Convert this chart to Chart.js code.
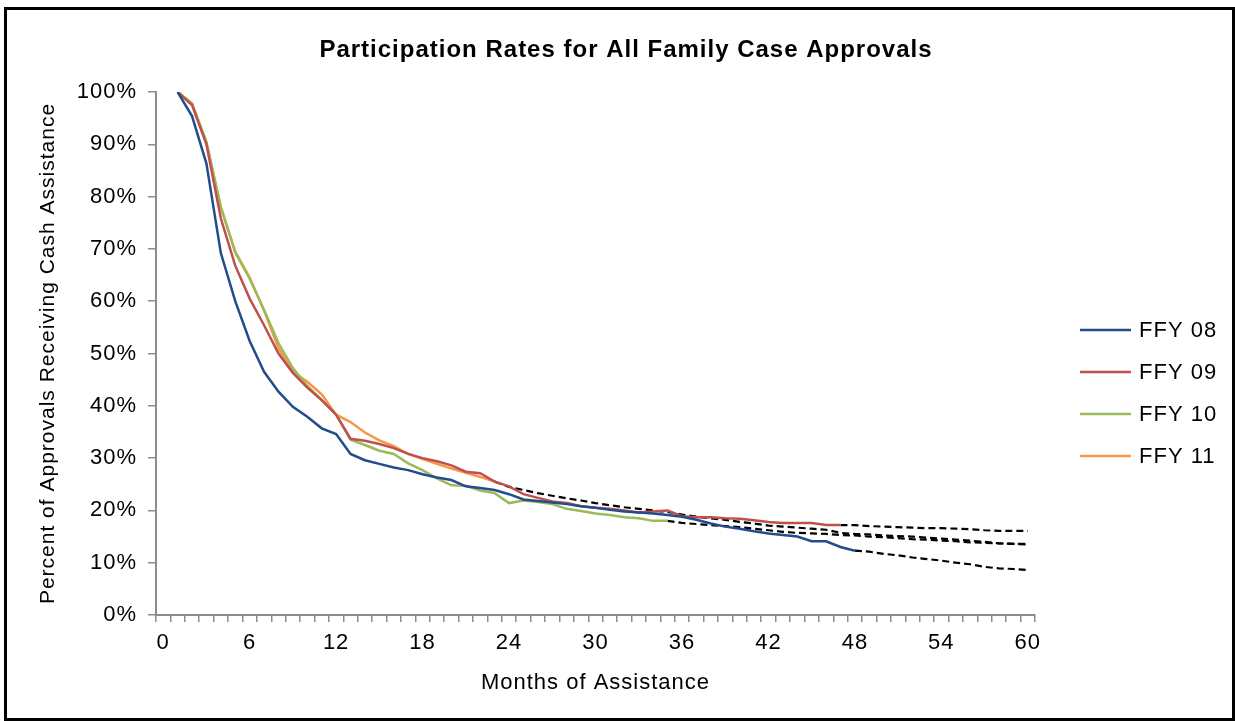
<!DOCTYPE html>
<html>
<head>
<meta charset="utf-8">
<title>Participation Rates for All Family Case Approvals</title>
<script src="https://cdn.jsdelivr.net/npm/chart.js@4.4.1/dist/chart.umd.min.js"></script>
<style>
    html, body { margin: 0; padding: 0; background: #fff; }
    #wrap { position: relative; width: 1235px; height: 721px; overflow: hidden; }
    #participation-chart { position: absolute; left: 0; top: 0; }
    #frame { position: absolute; left: 4px; top: 7px; right: 0; bottom: 0; border: 3px solid #000; pointer-events: none; }
</style>
</head>
<body>
<div id="wrap">
    <canvas id="participation-chart" width="1235" height="721"></canvas>
    <div id="frame"></div>
</div>
<script>
// months of assistance (category axis), labelled every 6 months
const MONTHS = ['0','1','2','3','4','5','6','7','8','9','10','11','12','13','14','15','16','17','18','19','20',
    '21','22','23','24','25','26','27','28','29','30','31','32','33','34','35','36','37','38','39','40',
    '41','42','43','44','45','46','47','48','49','50','51','52','53','54','55','56','57','58','59','60'];
const LABEL_EVERY = 6;

// percent of approvals still receiving cash assistance, starting at month 1
const FFY08 = [100, 95.4, 86.3, 69.2, 60.0, 52.4, 46.5, 42.7, 39.8, 37.9,
    35.7, 34.6, 30.8, 29.6, 28.9, 28.2, 27.7, 26.9, 26.3, 25.8,
    24.6, 24.3, 23.9, 23.1, 22.1, 21.8, 21.5, 21.2, 20.8, 20.5,
    20.1, 19.8, 19.6, 19.4, 19.1, 18.8, 18.2, 17.5, 16.9, 16.5,
    16.0, 15.6, 15.3, 15.0, 14.1, 14.1, 13.0, 12.3];
const FFY09 = [100, 97.5, 90.0, 75.8, 66.8, 60.5, 55.4, 50.0, 46.3, 43.5,
    41.1, 38.3, 33.7, 33.3, 32.7, 31.9, 30.8, 30.0, 29.4, 28.6,
    27.4, 27.1, 25.5, 24.6, 23.1, 22.4, 21.7, 21.4, 20.8, 20.5,
    20.3, 20.0, 19.6, 19.8, 20.0, 18.9, 18.7, 18.7, 18.5, 18.4,
    18.1, 17.8, 17.6, 17.6, 17.6, 17.2, 17.2];
const FFY10 = [100, 97.8, 90.5, 78.0, 69.3, 64.3, 58.3, 52.0, 47.2, 43.8,
    41.1, 38.3, 33.5, 32.5, 31.4, 30.8, 29.0, 27.7, 26.1, 24.8,
    24.7, 23.8, 23.3, 21.4, 21.9, 21.6, 21.2, 20.3, 19.9, 19.4,
    19.1, 18.7, 18.5, 18.0, 18.0];
const FFY11 = [100, 97.8, 90.2, 78.0, 69.5, 64.5, 58.2, 51.0, 46.5, 44.6,
    42.2, 38.3, 36.9, 34.9, 33.4, 32.3, 30.8, 29.8, 28.9, 28.0,
    27.2, 26.4, 25.5];

// projected (dashed) continuations, each starting at the last actual month
const PROJ08_START = 48;
const PROJ08 = [12.3, 12.1, 11.7, 11.4, 11.0, 10.7, 10.4, 10.0, 9.7, 9.2, 8.9, 8.8, 8.6];
const PROJ09_START = 47;
const PROJ09 = [17.2, 17.2, 17.0, 16.9, 16.8, 16.7, 16.6, 16.6, 16.5, 16.4, 16.2, 16.1, 16.1, 16.1];
const PROJ10_START = 35;
const PROJ10 = [18.0, 17.6, 17.4, 17.2, 17.0, 16.8, 16.5, 16.2, 15.9, 15.7,
    15.6, 15.5, 15.3, 15.2, 15.0, 14.9, 14.7, 14.5, 14.4, 14.2,
    14.1, 13.9, 13.8, 13.7, 13.6, 13.5];
const PROJ11_START = 23;
const PROJ11 = [25.5, 24.5, 23.9, 23.3, 22.8, 22.3, 21.9, 21.4, 21.0, 20.6,
    20.3, 20.0, 19.7, 19.2, 18.8, 18.5, 18.2, 17.8, 17.5, 17.1,
    16.9, 16.7, 16.5, 16.3, 15.7, 15.5, 15.4, 15.2, 15.1, 15.0,
    14.8, 14.6, 14.4, 14.2, 14.0, 13.7, 13.6, 13.6];

const Y_TICKS_STEP = 10;

const FONT_FAMILY = "'Liberation Sans', Arial, sans-serif";
const AXIS_GREY = '#8c8c8c';

// put values on the month axis, leaving earlier months empty
function fromMonth(start, values) {
    const out = [];
    for (let i = 0; i < start; i++) out.push(null);
    return out.concat(values);
}

function actualSeries(label, values, color) {
    return {
        label: label,
        data: fromMonth(1, values),
        borderColor: color,
        backgroundColor: color,
        borderWidth: 2.5,
        pointRadius: 0,
        tension: 0
    };
}

function projectedSeries(start, values) {
    return {
        label: '',
        data: fromMonth(start, values),
        borderColor: '#000000',
        backgroundColor: '#000000',
        borderWidth: 2.2,
        borderDash: [7, 4],
        pointRadius: 0,
        tension: 0
    };
}

// legend on the right, drawn by hand so it sits where the original puts it
const sideLegend = {
    id: 'sideLegend',
    afterDraw(chart, args, opts) {
        const ctx = chart.ctx;
        ctx.save();
        ctx.font = opts.font;
        ctx.textBaseline = 'middle';
        ctx.textAlign = 'left';
        chart.data.datasets.filter(ds => ds.label).forEach((ds, i) => {
            const y = opts.top + i * opts.spacing;
            ctx.strokeStyle = ds.borderColor;
            ctx.lineWidth = ds.borderWidth;
            ctx.beginPath();
            ctx.moveTo(opts.left, y);
            ctx.lineTo(opts.left + opts.lineLength, y);
            ctx.stroke();
            ctx.fillStyle = '#000';
            ctx.fillText(ds.label, opts.left + opts.lineLength + opts.gap, y + 1);
        });
        ctx.restore();
    }
};

// the original text is set a little loose
const looseText = {
    id: 'looseText',
    beforeUpdate(chart) { chart.ctx.letterSpacing = '1px'; },
    beforeDraw(chart) { chart.ctx.letterSpacing = '1px'; }
};

const canvas = document.getElementById('participation-chart');

new Chart(canvas, {
    type: 'line',
    data: {
        labels: MONTHS,
        datasets: [
            actualSeries('FFY 08', FFY08, '#234C8C'),
            actualSeries('FFY 09', FFY09, '#C0504D'),
            actualSeries('FFY 10', FFY10, '#9BBB59'),
            actualSeries('FFY 11', FFY11, '#F79646'),
            projectedSeries(PROJ11_START, PROJ11),
            projectedSeries(PROJ10_START, PROJ10),
            projectedSeries(PROJ09_START, PROJ09),
            projectedSeries(PROJ08_START, PROJ08)
        ]
    },
    plugins: [looseText, sideLegend],
    options: {
        responsive: false,
        animation: false,
        devicePixelRatio: 1,
        layout: { padding: { left: 17, right: 0, top: 8, bottom: 0 } },
        plugins: {
            legend: { display: false },
            tooltip: { enabled: false },
            title: {
                display: true,
                text: 'Participation Rates for All Family Case Approvals',
                color: '#000',
                font: { family: FONT_FAMILY, size: 24, weight: 'bold' },
                padding: { top: 27.6, bottom: 27.6 }
            },
            sideLegend: {
                left: 1080,
                top: 330,
                spacing: 42,
                lineLength: 51,
                gap: 8,
                font: "22px 'Liberation Sans', Arial, sans-serif"
            }
        },
        scales: {
            x: {
                type: 'category',
                offset: true,
                title: {
                    display: true,
                    text: 'Months of Assistance',
                    color: '#000',
                    font: { family: FONT_FAMILY, size: 22 },
                    padding: { top: 0, bottom: 25 }
                },
                grid: {
                    offset: true,
                    drawOnChartArea: false,
                    drawTicks: true,
                    tickLength: 7,
                    color: AXIS_GREY,
                    lineWidth: 1.5
                },
                border: { display: true, color: AXIS_GREY, width: 2 },
                ticks: {
                    autoSkip: false,
                    maxRotation: 0,
                    padding: 8,
                    color: '#000',
                    font: { family: FONT_FAMILY, size: 22 },
                    callback: function (value, index) {
                        return index % LABEL_EVERY === 0 ? this.getLabelForValue(value) : '';
                    }
                },
                afterFit: scale => { scale.height = 106; }
            },
            y: {
                min: 0,
                max: 100,
                title: {
                    display: true,
                    text: 'Percent of Approvals Receiving Cash Assistance',
                    color: '#000',
                    font: { family: FONT_FAMILY, size: 21 },
                    padding: { top: 18.5, bottom: 0 }
                },
                grid: {
                    drawOnChartArea: false,
                    drawTicks: true,
                    tickLength: 8,
                    color: AXIS_GREY,
                    lineWidth: 1.5
                },
                border: { display: true, color: AXIS_GREY, width: 2 },
                ticks: {
                    stepSize: Y_TICKS_STEP,
                    padding: 11,
                    color: '#000',
                    font: { family: FONT_FAMILY, size: 22 },
                    callback: value => value + '%'
                },
                afterFit: scale => { scale.width = 139; }
            },
            // empty right-hand axis: keeps the room the legend needs
            legendRoom: {
                type: 'linear',
                position: 'right',
                display: true,
                grid: { display: false },
                border: { display: false },
                ticks: { display: false },
                afterFit: scale => { scale.width = 200; }
            }
        }
    }
});
</script>
</body>
</html>
